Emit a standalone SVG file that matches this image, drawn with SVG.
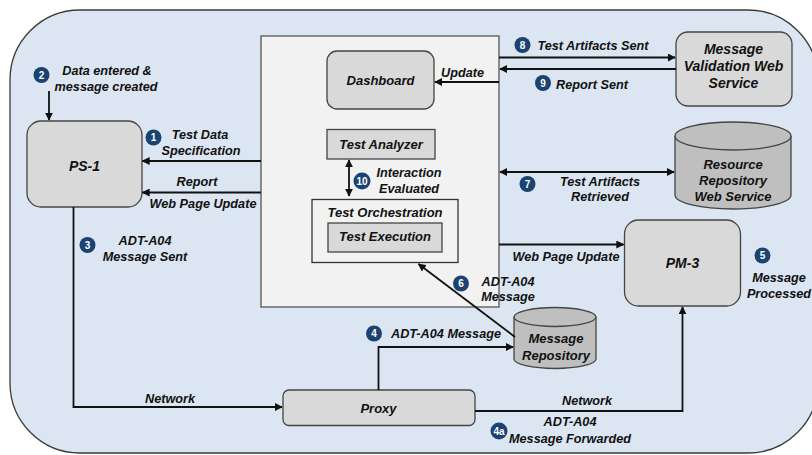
<svg xmlns="http://www.w3.org/2000/svg" width="812" height="455" viewBox="0 0 812 455">
<defs>
<marker id="ah" viewBox="0 0 10 10" refX="9" refY="5" markerWidth="8" markerHeight="8" markerUnits="userSpaceOnUse" orient="auto-start-reverse">
<path d="M0,0 L10,5 L0,10 z" fill="#111"/>
</marker>
<style>
text{font-family:"Liberation Sans",Arial,sans-serif;font-weight:bold;font-style:italic;fill:#111;text-anchor:middle}
.lbl{font-size:12.7px}
.nd{font-size:13px}
.big{font-size:14px}
.box{fill:#d9d9d9;stroke:#444;stroke-width:1.3}
.cyl{fill:#bfbfbf;stroke:#444;stroke-width:1.3}
.cn{fill:none;stroke:#111;stroke-width:1.8}
.bd circle{fill:#1b4372}
.bd text{fill:#fff;font-size:10px;font-style:normal;font-family:"Liberation Sans",Arial,sans-serif}
</style>
</defs>
<rect x="10" y="10" width="808" height="443" rx="70" ry="70" fill="#dce6f2" stroke="#3a3a3a" stroke-width="1.3"/>
<g id="system"><rect x="261" y="36" width="238" height="271" fill="#f2f2f2" stroke="#555" stroke-width="1.3"/></g>
<g id="dashboard"><rect class="box" x="327" y="51" width="107" height="58" rx="10"/><text class="nd" x="380.5" y="84.5">Dashboard</text></g>
<g id="analyzer"><rect class="box" x="327" y="129.5" width="108" height="29.5"/><text class="nd" x="381" y="149">Test Analyzer</text></g>
<g id="orchestration"><rect x="312" y="199.5" width="146" height="63" fill="#f2f2f2" stroke="#333" stroke-width="1.3"/><text class="nd" x="385" y="216.5">Test Orchestration</text></g>
<g id="execution"><rect class="box" x="328" y="223" width="114" height="29"/><text class="nd" x="385" y="241">Test Execution</text></g>
<g id="ps1"><rect class="box" x="27" y="121" width="115" height="86" rx="14"/><text class="big" x="84.5" y="171">PS-1</text></g>
<g id="pm3"><rect class="box" x="624.5" y="220" width="116" height="86" rx="14"/><text class="big" x="682.5" y="268">PM-3</text></g>
<g id="proxy"><rect class="box" x="283" y="390" width="192" height="35.5" rx="6"/><text class="nd" x="378.5" y="412.5">Proxy</text></g>
<g id="mvws"><rect class="box" x="676" y="32" width="116" height="74" rx="12"/><text class="big" x="733.5" y="54">Message</text><text class="big" x="733.5" y="71">Validation Web</text><text class="big" x="733.5" y="88">Service</text></g>
<g id="rrws"><path class="cyl" d="M675,136 L675,195 A58,14 0 0 0 791,195 L791,136"/><ellipse class="cyl" cx="733" cy="136" rx="58" ry="14"/><text class="nd" x="733" y="168.5">Resource</text><text class="nd" x="733" y="185">Repository</text><text class="nd" x="733" y="200.5">Web Service</text></g>
<g id="msgrepo"><path class="cyl" d="M514,317 L514,359 A41,9.5 0 0 0 596,359 L596,317"/><ellipse class="cyl" cx="555" cy="317" rx="41" ry="9.5"/><text class="nd" x="556" y="343">Message</text><text class="nd" x="556" y="359.5">Repository</text></g>
<g id="connectors">
<path class="cn" d="M49,91 L49,120" marker-end="url(#ah)"/>
<path class="cn" d="M261,161 L142.5,161" marker-end="url(#ah)"/>
<path class="cn" d="M261,192.5 L142.5,192.5" marker-end="url(#ah)"/>
<path class="cn" d="M73.5,207 L73.5,407 L282,407" marker-end="url(#ah)"/>
<path class="cn" d="M378.5,390 L378.5,347 L513,347" marker-end="url(#ah)"/>
<path class="cn" d="M475,411 L682.5,411 L682.5,307" marker-end="url(#ah)"/>
<path class="cn" d="M515,337 L418.5,264" marker-end="url(#ah)"/>
<path class="cn" d="M499,244.5 L623.5,244.5" marker-end="url(#ah)"/>
<path class="cn" d="M499,82 L435,82" marker-end="url(#ah)"/>
<path class="cn" d="M499,57.5 L675,57.5" marker-end="url(#ah)"/>
<path class="cn" d="M676,69 L500,69" marker-end="url(#ah)"/>
<path class="cn" d="M500,172 L674,172" marker-start="url(#ah)" marker-end="url(#ah)"/>
<path class="cn" d="M349,160 L349,196" marker-start="url(#ah)" marker-end="url(#ah)"/>
</g>
<g id="labels">
<text class="lbl" x="107" y="74.5">Data entered &amp;</text>
<text class="lbl" x="106" y="91">message created</text>
<text class="lbl" x="200" y="138.5">Test Data</text>
<text class="lbl" x="201" y="154.5">Specification</text>
<text class="lbl" x="197" y="186">Report</text>
<text class="lbl" x="203" y="208">Web Page Update</text>
<text class="lbl" x="145" y="244.5">ADT-A04</text>
<text class="lbl" x="145" y="260.5">Message Sent</text>
<text class="lbl" x="170" y="402.5">Network</text>
<text class="lbl" x="446" y="337.5">ADT-A04 Message</text>
<text class="lbl" x="508" y="285.5">ADT-A04</text>
<text class="lbl" x="508" y="301">Message</text>
<text class="lbl" x="566" y="261">Web Page Update</text>
<text class="lbl" x="462.5" y="76.5">Update</text>
<text class="lbl" x="409" y="177">Interaction</text>
<text class="lbl" x="409" y="193">Evaluated</text>
<text class="lbl" x="593" y="49.5">Test Artifacts Sent</text>
<text class="lbl" x="592" y="88.5">Report Sent</text>
<text class="lbl" x="600" y="185.5">Test Artifacts</text>
<text class="lbl" x="600" y="201">Retrieved</text>
<text class="lbl" x="779" y="281.5">Message</text>
<text class="lbl" x="779" y="297.5">Processed</text>
<text class="lbl" x="587" y="404.5">Network</text>
<text class="lbl" x="570" y="426">ADT-A04</text>
<text class="lbl" x="570" y="442.5">Message Forwarded</text>
</g>
<g id="badges" class="bd">
<g><circle cx="153.5" cy="137.5" r="8"/><text x="153.5" y="141">1</text></g>
<g><circle cx="41.5" cy="75" r="8"/><text x="41.5" y="78.5">2</text></g>
<g><circle cx="87.5" cy="245" r="8"/><text x="87.5" y="248.5">3</text></g>
<g><circle cx="374" cy="333.5" r="8"/><text x="374" y="337">4</text></g>
<g><circle cx="499" cy="431" r="8.5"/><text x="499" y="434.5">4a</text></g>
<g><circle cx="762.5" cy="255.5" r="8"/><text x="762.5" y="259">5</text></g>
<g><circle cx="461" cy="283.5" r="8"/><text x="461" y="287">6</text></g>
<g><circle cx="527.5" cy="184" r="8"/><text x="527.5" y="187.5">7</text></g>
<g><circle cx="522.5" cy="45" r="8"/><text x="522.5" y="48.5">8</text></g>
<g><circle cx="543" cy="83" r="8"/><text x="543" y="86.5">9</text></g>
<g><circle cx="362" cy="181" r="8.5"/><text x="362" y="184.5">10</text></g>
</g>
</svg>
